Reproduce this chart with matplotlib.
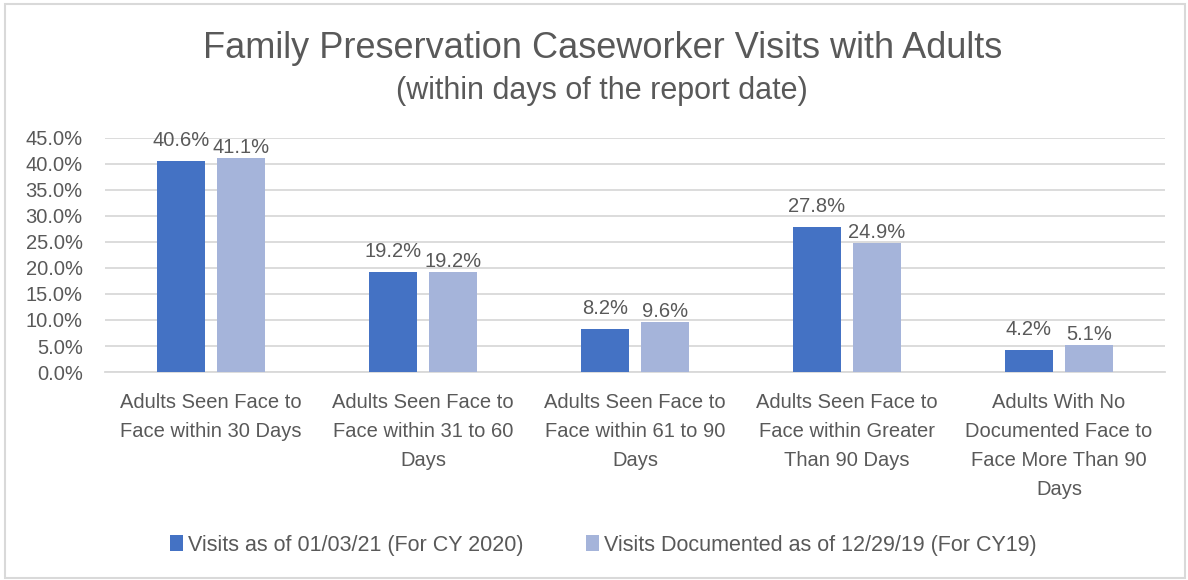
import matplotlib
matplotlib.use("Agg")
import matplotlib.pyplot as plt
import numpy as np
from matplotlib.patches import Rectangle

categories = [
    "Adults Seen Face to\nFace within 30 Days",
    "Adults Seen Face to\nFace within 31 to 60\nDays",
    "Adults Seen Face to\nFace within 61 to 90\nDays",
    "Adults Seen Face to\nFace within Greater\nThan 90 Days",
    "Adults With No\nDocumented Face to\nFace More Than 90\nDays",
]
series_2020 = [40.6, 19.2, 8.2, 27.8, 4.2]
series_2019 = [41.1, 19.2, 9.6, 24.9, 5.1]
series_names = ["Visits as of 01/03/21 (For CY 2020)", "Visits Documented as of 12/29/19 (For CY19)"]
yticks = [0, 5, 10, 15, 20, 25, 30, 35, 40, 45]

TEXT = "#595959"
C1 = "#4472C4"
C2 = "#A5B4DA"
FONT = ["Liberation Sans", "DejaVu Sans"]
plt.rcParams["font.family"] = FONT

fig = plt.figure(figsize=(11.88, 5.80), dpi=100)
W, H = 1188, 580
ax = fig.add_axes([105 / W, 1 - 372 / H, 1060 / W, (372 - 138) / H])

x = np.arange(len(categories))
bw = 0.226
off = 0.142
ax.bar(x - off, series_2020, bw, color=C1, label=series_names[0], zorder=3)
ax.bar(x + off, series_2019, bw, color=C2, label=series_names[1], zorder=3)

for xi, v in zip(x, series_2020):
    ax.annotate(f"{v:.1f}%", (xi - off, v), xytext=(0, 10.8), textcoords="offset points",
                ha="center", va="baseline", fontsize=14.5, color=TEXT, zorder=4, annotation_clip=False)
for xi, v in zip(x, series_2019):
    ax.annotate(f"{v:.1f}%", (xi + off, v), xytext=(0, 3.6), textcoords="offset points",
                ha="center", va="baseline", fontsize=14.5, color=TEXT, zorder=4, annotation_clip=False)

ax.set_xlim(-0.5, len(categories) - 0.5)
ax.set_ylim(0, 45)
ax.set_yticks(yticks)
ax.set_yticklabels([f"{t:.1f}%" for t in yticks], fontsize=14.5, color=TEXT)
ax.set_xticks(x)
ax.set_xticklabels(categories, fontsize=14.5, color=TEXT, linespacing=1.67, va="top")
ax.tick_params(axis="y", length=0, pad=16)
ax.tick_params(axis="x", length=0, pad=15)
ax.grid(axis="y", color="#D9D9D9", linewidth=1.3, zorder=0)
for s in ["top", "right", "left"]:
    ax.spines[s].set_visible(False)
ax.spines["bottom"].set_color("#D9D9D9")
ax.spines["bottom"].set_linewidth(1.3)

fig.text(0.507, 1 - 49 / H, "Family Preservation Caseworker Visits with Adults", ha="center", va="center",
         fontsize=26, color=TEXT)
fig.text(0.507, 1 - 91 / H, "(within days of the report date)", ha="center", va="center",
         fontsize=22, color=TEXT)

leg = fig.legend(loc="center", bbox_to_anchor=(0.508, 1 - 545 / H), ncol=2, frameon=False,
                 prop={"size": 15.5},
                 handlelength=0.6, handleheight=0.8, handletextpad=0.25, columnspacing=2.9)
for t in leg.get_texts():
    t.set_color(TEXT)

fig.patches.append(Rectangle((5 / W, 1 - 578 / H), 1180 / W, 574 / H, transform=fig.transFigure,
                             fill=False, edgecolor="#D9D9D9", linewidth=1.5))

fig.savefig("out.png", dpi=100)
